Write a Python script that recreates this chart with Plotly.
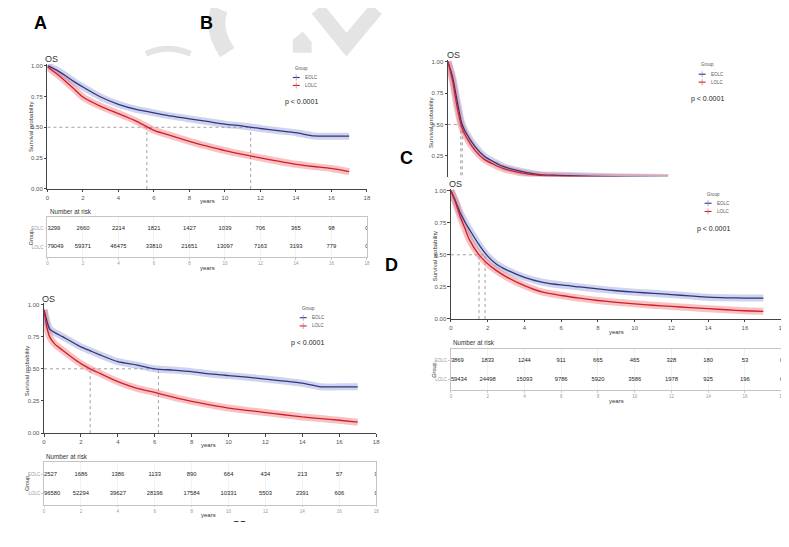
import plotly.graph_objects as go

# the page body adds an 8px margin, so the figure is drawn 8px smaller and shifted
W, H = 789, 547
OFF = 8
FW, FH = W - OFF, H - OFF

years = [0, 2, 4, 6, 8, 10, 12, 14, 16, 18]
prob_ticks = [0, 0.25, 0.5, 0.75, 1.0]
prob_labels = ["0.00", "0.25", "0.50", "0.75", "1.00"]
groups = ["EOLC", "LOLC"]

# panel A
a_time = [0, 0.5, 1, 1.5, 2, 3, 4, 5, 6, 7, 8, 9, 10, 11, 12, 13, 14, 15, 16, 17]
a_eolc = [1.0, 0.965, 0.92, 0.87, 0.826, 0.745, 0.686, 0.645, 0.617, 0.59, 0.568, 0.547, 0.525, 0.51, 0.49, 0.472, 0.456, 0.43, 0.428, 0.428]
a_lolc = [0.99, 0.935, 0.875, 0.81, 0.745, 0.67, 0.611, 0.55, 0.475, 0.43, 0.386, 0.347, 0.311, 0.28, 0.252, 0.225, 0.20, 0.182, 0.166, 0.14]
a_median = [11.45, 5.6]
a_risk_eolc = [3299, 2660, 2214, 1821, 1427, 1039, 706, 365, 98, 0]
a_risk_lolc = [79049, 59371, 46475, 33810, 21651, 13097, 7163, 3193, 779, 0]

# panel B
b_time = [0, 0.1, 0.3, 0.6, 1, 1.5, 2, 2.5, 3, 4, 5, 6, 7, 8, 9, 10, 11, 12, 13, 14, 15, 16, 17]
b_eolc = [0.96, 0.9, 0.81, 0.78, 0.75, 0.71, 0.67, 0.64, 0.61, 0.555, 0.53, 0.50, 0.49, 0.478, 0.46, 0.447, 0.435, 0.42, 0.405, 0.388, 0.36, 0.36, 0.36]
b_lolc = [0.955, 0.86, 0.75, 0.69, 0.645, 0.59, 0.54, 0.50, 0.466, 0.40, 0.35, 0.316, 0.28, 0.247, 0.22, 0.195, 0.177, 0.16, 0.143, 0.126, 0.113, 0.10, 0.085]
b_median = [6.2, 2.5]
b_risk_eolc = [2527, 1686, 1386, 1133, 890, 664, 434, 213, 57, 0]
b_risk_lolc = [96580, 52294, 39627, 28196, 17584, 10331, 5503, 2391, 606, 0]

# panel C
c_time = [0, 0.25, 0.5, 0.75, 1, 1.5, 2, 3, 4, 5, 6, 8, 10, 12]
c_eolc = [1.0, 0.88, 0.69, 0.51, 0.43, 0.32, 0.245, 0.166, 0.126, 0.10, 0.095, 0.087, 0.082, 0.078]
c_lolc = [1.0, 0.85, 0.64, 0.48, 0.40, 0.29, 0.22, 0.15, 0.115, 0.095, 0.088, 0.08, 0.076, 0.072]
c_median = [0.78, 0.70]

# panel D
d_time = [0, 0.25, 0.5, 0.75, 1, 1.5, 2, 2.5, 3, 4, 5, 6, 7, 8, 9, 10, 11, 12, 13, 14, 15, 16, 17]
d_eolc = [1.0, 0.92, 0.83, 0.76, 0.70, 0.585, 0.49, 0.425, 0.385, 0.325, 0.286, 0.265, 0.25, 0.234, 0.22, 0.209, 0.2, 0.19, 0.18, 0.17, 0.165, 0.163, 0.163]
d_lolc = [1.0, 0.91, 0.80, 0.71, 0.62, 0.505, 0.43, 0.375, 0.33, 0.26, 0.209, 0.183, 0.162, 0.144, 0.13, 0.118, 0.107, 0.098, 0.089, 0.08, 0.072, 0.064, 0.06]
d_median = [1.86, 1.53]
d_risk_eolc = [3869, 1833, 1244, 911, 665, 465, 328, 180, 53, 0]
d_risk_lolc = [59434, 24498, 15093, 9786, 5920, 3586, 1978, 925, 196, 0]

col_line = ["#2f3585", "#d01f26"]
col_band = ["rgba(135,145,205,0.40)", "rgba(238,100,105,0.40)"]
col_tick = ["rgba(120,130,195,0.55)", "rgba(230,90,95,0.55)"]
FONT = "Liberation Sans, Arial, sans-serif"


def px(x, y):
    return (x - OFF) / FW, 1 - (y - OFF) / FH


def dom_x(p0, p18, lo, hi):
    ppu = (p18 - p0) / 18
    return [(p0 + lo * ppu - OFF) / FW, (p0 + hi * ppu - OFF) / FW]


def dom_y(p_lo, v_lo, p_hi, v_hi, lo, hi):
    ppu = (p_lo - p_hi) / (v_hi - v_lo)
    bottom = p_lo + (v_lo - lo) * ppu
    top = p_hi - (hi - v_hi) * ppu
    return [1 - (bottom - OFF) / FH, 1 - (top - OFF) / FH]


fig = go.Figure()
annots = []
shapes = []


def ann(text, x, y, size, color="#333", anchor="center", angle=0, bold=False):
    fx, fy = px(x, y)
    annots.append(dict(text="<b>%s</b>" % text if bold else text, x=fx, y=fy, xref="paper", yref="paper",
                       showarrow=False, xanchor=anchor, yanchor="middle", textangle=angle,
                       font=dict(size=size, color=color, family=FONT)))


def km_panel(n, time, eolc, lolc, median, xdom, ydom, yrange, show_x=True):
    xa, ya = "x%d" % n, "y%d" % n
    for m in median:
        fig.add_trace(go.Scatter(x=[m, m], y=[0, 0.5], mode="lines", xaxis=xa, yaxis=ya,
                                 line=dict(color="#777", width=0.7, dash="dot"), hoverinfo="skip"))
    fig.add_trace(go.Scatter(x=[0, max(median)], y=[0.5, 0.5], mode="lines", xaxis=xa, yaxis=ya,
                             line=dict(color="#777", width=0.7, dash="dot"), hoverinfo="skip"))
    for i, vals in enumerate([eolc, lolc]):
        # censoring marks shown as a light band
        fig.add_trace(go.Scatter(x=time, y=vals, mode="lines", xaxis=xa, yaxis=ya,
                                 line=dict(color=col_band[i], width=7, shape="spline", smoothing=0.6),
                                 hoverinfo="skip"))
    for i, vals in enumerate([eolc, lolc]):
        fig.add_trace(go.Scatter(x=time, y=vals, mode="lines", name=groups[i], xaxis=xa, yaxis=ya,
                                 line=dict(color=col_line[i], width=1.3, shape="spline", smoothing=0.6)))
    key = "" if n == 1 else str(n)
    fig.layout["xaxis" + key] = dict(domain=xdom, range=[0, 18], anchor=ya, tickvals=years,
                                     showline=show_x, visible=show_x, linecolor="#444", linewidth=0.8,
                                     ticks="outside", ticklen=2.5, tickcolor="#444", showgrid=False,
                                     zeroline=False, tickfont=dict(size=6, color="#555", family=FONT))
    fig.layout["yaxis" + key] = dict(domain=ydom, range=yrange, anchor=xa, tickvals=prob_ticks,
                                     ticktext=prob_labels, showline=True, linecolor="#444", linewidth=0.8,
                                     ticks="outside", ticklen=2.5, tickcolor="#444", showgrid=False,
                                     zeroline=False, tickfont=dict(size=6, color="#555", family=FONT))


def risk_table(n, risk_e, risk_l, xdom, ydom, yrange):
    xa, ya = "x%d" % n, "y%d" % n
    pos = ["middle right"] + ["middle center"] * (len(years) - 1)
    for row, counts in [(2, risk_e), (1, risk_l)]:
        fig.add_trace(go.Scatter(x=years, y=[row] * len(years), mode="text", text=[str(c) for c in counts],
                                 textposition=pos, xaxis=xa, yaxis=ya, cliponaxis=True, hoverinfo="skip",
                                 textfont=dict(size=5.8, color="#222", family=FONT)))
    fig.layout["xaxis%d" % n] = dict(domain=xdom, range=[0, 18], anchor=ya, tickvals=years,
                                     showline=True, mirror=True, linecolor="#c4c4c4", linewidth=0.8,
                                     ticks="outside", ticklen=2, tickcolor="#ccc", showgrid=True,
                                     gridcolor="#f3f3f3", zeroline=False,
                                     tickfont=dict(size=4.5, color="#999", family=FONT))
    fig.layout["yaxis%d" % n] = dict(domain=ydom, range=yrange, anchor=xa, tickvals=[2, 1],
                                     ticktext=groups, showline=True, mirror=True, linecolor="#c4c4c4",
                                     linewidth=0.8, ticks="outside", ticklen=2, tickcolor="#ccc",
                                     showgrid=False, zeroline=False,
                                     tickfont=dict(size=4.5, color="#999", family=FONT))


def legend_block(x, y_group, y_e, y_l, p_x, p_y):
    ann("Group", x, y_group, 4.5, "#555", anchor="left")
    for i, yy in enumerate([y_e, y_l]):
        a0, b0 = px(x, yy)
        a1, _ = px(x + 7, yy)
        am, _ = px(x + 3.5, yy)
        _, bt = px(x, yy - 3)
        _, bb = px(x, yy + 3)
        shapes.append(dict(type="line", xref="paper", yref="paper", x0=a0, x1=a1, y0=b0, y1=b0,
                           line=dict(color=col_line[i], width=1.1)))
        shapes.append(dict(type="line", xref="paper", yref="paper", x0=am, x1=am, y0=bt, y1=bb,
                           line=dict(color=col_tick[i], width=1.2)))
        ann(groups[i], x + 10, yy, 4.5, "#555", anchor="left")
    ann("p < 0.0001", p_x, p_y, 7, "#222")


# A
km_panel(1, a_time, a_eolc, a_lolc, a_median, dom_x(45.7, 367.7, 0, 18),
         dom_y(189.3, 0, 65, 1, 0, 1.012), [0, 1.012])
risk_table(2, a_risk_eolc, a_risk_lolc, dom_x(45.7, 367.7, 0, 18),
           dom_y(247.7, 1, 229, 2, 0.45, 2.6), [0.45, 2.6])
# B
km_panel(3, b_time, b_eolc, b_lolc, b_median, dom_x(42.3, 377, 0, 18),
         dom_y(435.3, 0, 305.7, 1, 0, 1.012), [0, 1.012])
risk_table(4, b_risk_eolc, b_risk_lolc, dom_x(42.3, 377, 0, 18),
           dom_y(496, 1, 477, 2, 0.405, 2.67), [0.405, 2.67])
# C (lower part hidden behind D)
km_panel(5, c_time, c_eolc, c_lolc, c_median, dom_x(449.3, 782.3, 0, 18),
         dom_y(187.6, 0, 61, 1, 0.085, 1.012), [0.085, 1.012], show_x=False)
# D
km_panel(6, d_time, d_eolc, d_lolc, d_median, dom_x(452.3, 785.7, 0, 18),
         dom_y(320.3, 0, 191, 1, 0, 1.012), [0, 1.012])
risk_table(7, d_risk_eolc, d_risk_lolc, dom_x(452.3, 785.7, 0, 18),
           dom_y(381, 1, 362, 2, 0.42, 2.59), [0.42, 2.59])

# titles and labels
for x, y in [(50, 58), (47, 300), (455, 54), (457, 184.7)]:
    ann("OS", x, y, 9, "#333")
for x, y in [(29.3, 126.7), (25, 373), (432, 123), (435.7, 256.7)]:
    ann("Survival probability", x, y, 6, "#333", angle=-90)
for x, y in [(207, 201), (208, 447.7), (619, 333.3), (207, 269), (208, 517.3), (619, 402.7)]:
    ann("years", x, y, 6, "#333")
for x, y in [(46, 212.3), (42, 459.3), (452, 344)]:
    ann("Number at risk", x, y, 6.3, "#333", anchor="left")
for x, y in [(29, 238), (25, 485.7), (435, 371.7)]:
    ann("Group", x, y, 5.5, "#333", angle=-90)

legend_block(293, 68, 77, 85, 302, 102)
legend_block(300, 310, 319, 327.3, 308, 345)
legend_block(702, 64, 73.7, 81.7, 711, 99)
legend_block(708, 194.7, 203.7, 212, 717, 230)

for letter, x, y in [("A", 39, 22), ("B", 206, 22), ("C", 408, 158), ("D", 392, 266)]:
    ann(letter, x, y, 18, "#000", bold=True)
ann("\u2012 \u2012", 239, 523, 8, "#000", bold=True)


def path(cmds):
    out = []
    for c in cmds:
        if isinstance(c, str):
            out.append(c)
        else:
            fx, fy = px(*c)
            out.append("%.4f,%.4f" % (fx, fy))
    return " ".join(out)


# light watermark at the top
wm = "#e4e4e4"
shapes.append(dict(type="path", xref="paper", yref="paper", line=dict(color=wm, width=17),
                   path=path(["M", (219, 8), "Q", (211, 28), (227, 52)])))
shapes.append(dict(type="path", xref="paper", yref="paper", line=dict(color=wm, width=6),
                   path=path(["M", (145, 53), "Q", (167, 43), (190, 53)])))
shapes.append(dict(type="path", xref="paper", yref="paper", line=dict(color=wm, width=0), fillcolor=wm,
                   path=path(["M", (293, 39), "L", (303, 31), "L", (312, 41), "L", (312, 52), "L", (293, 52), "Z"])))
shapes.append(dict(type="path", xref="paper", yref="paper", line=dict(color=wm, width=15),
                   path=path(["M", (318, 8), "L", (347, 44), "L", (377, 8)])))
# right border line
ex, ey0 = px(787.5, 8)
_, ey1 = px(787.5, 400)
shapes.append(dict(type="line", xref="paper", yref="paper", x0=ex, x1=ex, y0=ey0, y1=ey1,
                   line=dict(color="#b0b0b0", width=1)))

fig.update_layout(width=FW, height=FH, margin=dict(l=0, r=0, t=0, b=0), showlegend=False,
                  paper_bgcolor="white", plot_bgcolor="white", annotations=annots, shapes=shapes,
                  font=dict(family=FONT))
fig.write_html("out.html")
